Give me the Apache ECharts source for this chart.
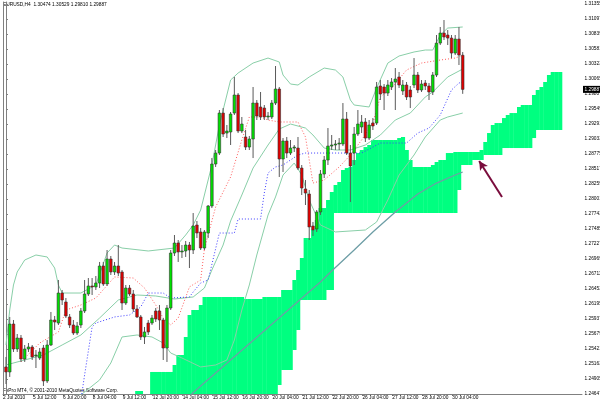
<!DOCTYPE html>
<html><head><meta charset="utf-8">
<script src="https://cdn.jsdelivr.net/npm/echarts@6/dist/echarts.min.js"></script>
<style>html,body{margin:0;padding:0;background:#fff}#c{width:600px;height:404px}</style>
</head><body><div id="c"></div><script>
const symbolTitle = 'EURUSD,H4  1.30474 1.30529 1.29810 1.29887';
const copyright = 'FxPro MT4, \u00a9 2001-2010 MetaQuotes Software Corp.';
const timeLabels = ['2 Jul 2010','5 Jul 12:00','6 Jul 20:00','8 Jul 04:00','9 Jul 12:00','12 Jul 20:00','14 Jul 04:00','15 Jul 12:00','16 Jul 20:00','20 Jul 04:00','21 Jul 12:00','22 Jul 20:00','26 Jul 04:00','27 Jul 12:00','28 Jul 20:00','30 Jul 04:00'];
const timeLabelBars = [0,8,16,24,32,40,48,56,64,72,80,88,96,104,112,120];
const priceLabels = ['1.31355','1.31097','1.30839','1.30581','1.30323','1.30065','1.29807','1.29549','1.29291','1.29033','1.28775','1.28517','1.28259','1.28001','1.27743','1.27485','1.27227','1.26969','1.26711','1.26453','1.26195','1.25937','1.25679','1.25421','1.25163','1.24905','1.24647'];
const lastPrice = 1.29887;

const open = [1.25112,1.25026,1.25851,1.25421,1.25610,1.25249,1.25421,1.25456,1.25301,1.25266,
1.25438,1.24871,1.25490,1.25920,1.25868,1.26384,1.26230,1.25972,1.25834,1.25696,
1.25834,1.26075,1.26367,1.26505,1.26488,1.26556,1.26849,1.26539,1.26969,1.26746,
1.26849,1.26746,1.26212,1.26470,1.26367,1.26109,1.25972,1.25628,1.25868,1.25868,
1.26075,1.26075,1.25920,1.25438,1.26126,1.27072,1.27244,1.27090,1.27107,1.27210,
1.27124,1.27554,1.27434,1.27158,1.27416,1.27881,1.28603,1.28792,1.29480,1.29136,
1.29154,1.29480,1.29790,1.29171,1.29068,1.28895,1.29033,1.29652,1.29584,1.29566,
1.29412,1.29412,1.29652,1.29893,1.28689,1.28999,1.28792,1.28878,1.28878,1.28534,
1.28173,1.28087,1.27537,1.27485,1.27778,1.28431,1.28672,1.28912,1.28930,1.28947,
1.28947,1.29377,1.28792,1.28792,1.29119,1.29240,1.29326,1.29050,1.29308,1.29308,
1.29945,1.29928,1.29824,1.29928,1.30014,1.30100,1.29859,1.29962,1.29876,1.29962,
1.30134,1.29876,1.29996,1.29945,1.29842,1.30134,1.30684,1.30856,1.30822,1.30770,
1.30512,1.30753,1.30474];
const high = [1.25284,1.25972,1.25920,1.25679,1.25662,1.25490,1.25524,1.25490,1.25404,1.25438,
1.25490,1.25576,1.26058,1.25989,1.26608,1.26436,1.26298,1.26023,1.25920,1.25886,
1.26126,1.26608,1.26642,1.26642,1.26677,1.26918,1.26918,1.27124,1.27021,1.26918,
1.27210,1.26780,1.26522,1.26522,1.26436,1.26178,1.26006,1.25800,1.25920,1.26006,
1.26126,1.26178,1.25954,1.26178,1.27124,1.27382,1.27296,1.27210,1.27279,1.27262,
1.27760,1.27623,1.27502,1.27468,1.27898,1.28706,1.28844,1.29532,1.29566,1.29274,
1.29498,1.30100,1.29824,1.29412,1.29188,1.29085,1.29928,1.29704,1.29842,1.29618,
1.29498,1.29704,1.30289,1.29928,1.29050,1.29068,1.29016,1.28930,1.29068,1.28586,
1.28328,1.28156,1.27606,1.27812,1.28500,1.28741,1.29222,1.29102,1.29016,1.29050,
1.29652,1.29498,1.28930,1.29240,1.29532,1.29446,1.29394,1.29360,1.29394,1.30014,
1.30048,1.29979,1.30048,1.30082,1.30254,1.30186,1.30048,1.30014,1.29945,1.30426,
1.30186,1.30048,1.30048,1.29996,1.30186,1.30822,1.30960,1.31080,1.30908,1.30822,
1.30822,1.30960,1.30529];
const low = [1.24819,1.24940,1.25370,1.25370,1.25198,1.25198,1.25370,1.25232,1.25094,1.25232,
1.24785,1.24836,1.25473,1.25748,1.25834,1.26178,1.25954,1.25782,1.25662,1.25662,
1.25782,1.26040,1.26333,1.26350,1.26436,1.26470,1.26505,1.26505,1.26694,1.26694,
1.26677,1.26092,1.26178,1.26333,1.26058,1.25954,1.25576,1.25507,1.25662,1.25834,
1.25886,1.25748,1.25232,1.25198,1.26092,1.27021,1.26918,1.26986,1.27004,1.26814,
1.27055,1.27330,1.27124,1.27124,1.27330,1.27846,1.28552,1.28758,1.29068,1.29050,
1.28930,1.29446,1.29136,1.29136,1.28844,1.28844,1.28706,1.29360,1.29360,1.29360,
1.29360,1.29377,1.29618,1.28380,1.28466,1.28706,1.28758,1.28810,1.28500,1.28070,
1.27898,1.27296,1.27365,1.27434,1.27726,1.28362,1.28586,1.28844,1.28844,1.28844,
1.28912,1.28758,1.27950,1.28586,1.29085,1.29136,1.28982,1.29016,1.29188,1.29274,
1.29704,1.29532,1.29773,1.29876,1.29532,1.29910,1.29790,1.29704,1.29566,1.29910,
1.29824,1.29842,1.29876,1.29704,1.29790,1.30100,1.30650,1.30736,1.30650,1.30426,
1.30478,1.30306,1.29810];
const close = [1.25026,1.25851,1.25421,1.25610,1.25249,1.25421,1.25456,1.25284,1.25318,1.25370,
1.24871,1.25490,1.25920,1.25886,1.26384,1.26264,1.25989,1.25834,1.25696,1.25817,
1.26075,1.26367,1.26505,1.26488,1.26556,1.26849,1.26539,1.26969,1.26746,1.26849,
1.26728,1.26212,1.26470,1.26367,1.26109,1.25972,1.25628,1.25714,1.25714,1.25954,
1.25937,1.25920,1.25438,1.26126,1.27072,1.27244,1.27090,1.27107,1.27210,1.27124,
1.27537,1.27416,1.27158,1.27434,1.27881,1.28603,1.28792,1.29480,1.29119,1.29171,
1.29463,1.29790,1.29171,1.29291,1.28895,1.29033,1.29652,1.29429,1.29412,1.29412,
1.29429,1.29652,1.29893,1.28689,1.28999,1.28792,1.28878,1.28895,1.28534,1.28190,
1.28104,1.27520,1.27468,1.27778,1.28431,1.28672,1.28912,1.28930,1.28947,1.28964,
1.29377,1.28792,1.28569,1.29119,1.29291,1.29326,1.29050,1.29274,1.29257,1.29928,
1.29807,1.29824,1.29962,1.30014,1.30065,1.29962,1.29962,1.29756,1.29756,1.30134,
1.29876,1.29979,1.29945,1.29842,1.30134,1.30684,1.30856,1.30788,1.30770,1.30512,
1.30753,1.30478,1.29887];

const cloudStart = 35;
const cloudTop = [1.24699,1.24699,null,null,1.25026,1.25026,1.25026,1.25026,1.25026,1.25026,
1.25146,1.25318,1.25318,1.25628,1.26006,1.26092,1.26092,1.26178,
1.26316,1.26316,1.26316,1.26316,1.26316,1.26316,1.26316,1.26316,1.26316,1.26316,1.26316,
1.26281,1.26281,1.26281,1.26281,1.26281,
1.26316,1.26316,1.26316,1.26316,1.26316,
1.26436,1.26436,1.26436,1.26608,1.26780,1.26986,1.27330,1.27330,1.27468,1.27640,
1.27846,1.27846,1.27984,1.28122,1.28242,1.28294,1.28500,1.28534,1.28552,1.28672,
1.28792,1.28844,1.28895,1.28930,
1.29016,1.29016,1.29016,1.29016,1.29016,1.29016,1.29016,
1.29050,1.29068,1.28844,1.28672,1.28552,1.28552,1.28552,1.28552,1.28552,
1.28586,1.28638,1.28672,1.28672,1.28792,1.28792,
1.28810,1.28810,1.28810,1.28810,1.28810,1.28810,1.28810,
1.28844,1.28982,1.29136,1.29274,1.29308,1.29308,1.29394,1.29446,1.29480,1.29480,
1.29584,1.29618,1.29618,1.29618,1.29790,1.29876,1.29928,1.30014,1.30134,
1.30186,1.30186,1.30186];
const cloudBottom = [1.24544,1.24544,1.24544,1.24544,1.24544,1.24544,1.24544,1.24544,1.24544,1.24544,
1.24544,1.24544,1.24544,1.24544,1.24544,1.24544,1.24544,1.24544,1.24544,1.24544,
1.24544,1.24544,1.24544,1.24544,1.24544,1.24544,1.24544,1.24544,1.24544,1.24544,
1.24544,1.24544,1.24544,1.24544,1.24544,1.24544,1.24544,1.24544,
1.24802,1.25060,1.25060,1.25060,1.25404,1.25748,
1.26264,1.26264,1.26264,1.26264,1.26264,1.26264,1.26264,
1.26436,1.26436,
1.27760,1.27760,1.27760,1.27760,1.27760,1.27760,1.27760,1.27760,1.27760,1.27760,
1.27760,1.27760,1.27760,1.27760,1.27760,1.27760,1.27760,1.27760,1.27760,1.27760,
1.27760,1.27760,1.27760,1.27760,1.27760,1.27760,1.27760,1.27760,1.27760,1.27760,
1.27760,1.27760,1.27760,
1.28156,1.28586,1.28586,1.28586,1.28672,1.28672,1.28672,
1.28758,1.28758,1.28758,1.28758,1.28758,
1.28878,1.28878,1.28878,1.28878,1.28878,1.28878,1.28878,1.28878,
1.29050,1.29188,1.29188,1.29188,1.29188,1.29188,1.29188,1.29188];

const bbUpper = [[0,1.25490],[1,1.26092],[2,1.26522],[3,1.26746],[5,1.26952],[8,1.27038],[11,1.27004],[13,1.26814],[14,1.26522],[15,1.26384],[20,1.26384],[24,1.26522],[27,1.27072],[29,1.27210],[31,1.27158],[38,1.27107],[45,1.27158],[48,1.27382],[50,1.27554],[52,1.27812],[55,1.28586],[57,1.29274],[60,1.30048],[62,1.30168],[66,1.30340],[70,1.30426],[73,1.30358],[74,1.30134],[76,1.29979],[78,1.29962],[81,1.30100],[85,1.30254],[88,1.30220],[90,1.30100],[92,1.29704],[93,1.29618],[97,1.29584],[99,1.29910],[102,1.30340],[105,1.30461],[109,1.30530],[112,1.30564],[114,1.30564],[116,1.30822],[118,1.30942],[122,1.30960]];
const bbMiddle = [[0,1.25146],[5,1.25232],[10,1.25318],[15,1.25490],[20,1.25662],[25,1.25954],[30,1.26264],[35,1.26350],[40,1.26333],[45,1.26281],[50,1.26316],[53,1.26470],[55,1.26780],[58,1.27210],[60,1.27623],[63,1.28070],[66,1.28534],[70,1.28930],[73,1.29205],[76,1.29291],[80,1.29222],[82,1.29102],[85,1.28878],[88,1.28844],[92,1.28844],[96,1.28930],[100,1.29102],[104,1.29360],[108,1.29480],[112,1.29756],[114,1.29842],[118,1.30100],[122,1.30237]];
const bbLower = [[0,1.24544],[10,1.24578],[20,1.24630],[25,1.24888],[28,1.25180],[31,1.25628],[35,1.25662],[39,1.25628],[42,1.25524],[44,1.25352],[47,1.25266],[52,1.25112],[56,1.25146],[59,1.25232],[61,1.25576],[63,1.26092],[65,1.26522],[67,1.27038],[70,1.27726],[72,1.28036],[74,1.28414],[77,1.28620],[79,1.28414],[81,1.27984],[84,1.27554],[88,1.27434],[96,1.27468],[99,1.27606],[102,1.27984],[105,1.28414],[109,1.28758],[112,1.29068],[116,1.29360],[118,1.29412],[122,1.29480]];
const tenkan = [[4,1.25198],[9,1.25524],[14,1.25714],[16,1.26092],[20,1.26178],[24,1.26298],[29,1.26660],[34,1.26642],[37,1.26470],[40,1.26178],[42,1.25954],[44,1.25834],[46,1.25954],[49,1.26488],[52,1.26608],[53,1.27141],[56,1.27864],[60,1.28380],[63,1.29016],[65,1.29412],[68,1.29412],[70,1.29360],[73,1.29326],[78,1.29326],[80,1.29068],[82,1.28276],[85,1.28328],[89,1.28552],[92,1.28758],[95,1.29016],[98,1.29308],[100,1.29756],[103,1.29910],[107,1.30220],[111,1.30340],[116,1.30392],[120,1.30426],[122,1.30478]];
const kijun = [[20,1.24544],[21,1.24974],[23,1.25800],[24,1.25868],[29,1.25972],[33,1.26006],[36,1.26144],[38,1.26384],[42,1.26384],[44,1.26298],[49,1.26316],[50,1.26402],[52,1.26556],[54,1.26608],[57,1.27416],[61,1.27416],[62,1.27657],[68,1.27657],[69,1.28104],[70,1.28448],[72,1.28552],[74,1.28586],[76,1.28672],[78,1.28758],[80,1.28792],[95,1.28792],[98,1.28895],[100,1.28964],[107,1.28964],[110,1.29136],[113,1.29222],[116,1.29446],[119,1.29876],[121,1.29996],[122,1.30014]];
const maLine = [[47,1.24458],[49,1.24613],[52,1.24785],[56,1.25008],[60,1.25232],[64,1.25456],[68,1.25679],[72,1.25903],[76,1.26126],[80,1.26350],[84,1.26574],[87,1.26763],[93,1.27124],[98,1.27434],[104,1.27778],[110,1.28087],[115,1.28276],[120,1.28414],[122,1.28466]];
const arrowFrom = [132.5, 1.28035];
const arrowTo = [126.4, 1.28655];

const FONT = 'Liberation Sans';
const FS = 4.8;
const timeTickVals = timeLabelBars.map(b => b - 0.8);
const priceVals = priceLabels.map(Number);

const bars = open.map((o, i) => [i, o, close[i], low[i], high[i]]);
const cloudData = [];
for (let k = 0; k < cloudTop.length; k++) {
  if (cloudTop[k] !== null) cloudData.push([cloudStart + k, cloudTop[k], cloudBottom[k]]);
}

function renderCandle(params, api) {
  const i = api.value(0), o = api.value(1), c = api.value(2), l = api.value(3), h = api.value(4);
  const pO = api.coord([i, o]), pC = api.coord([i, c]), pL = api.coord([i, l]), pH = api.coord([i, h]);
  const x = pO[0];
  const w = 2.6;
  const top = Math.min(pO[1], pC[1]), bot = Math.max(pO[1], pC[1]);
  const up = c >= o;
  return {type: 'group', children: [
    {type: 'line', shape: {x1: x, y1: pH[1], x2: x, y2: pL[1]}, style: {stroke: '#5a5a5a', lineWidth: 1}},
    {type: 'rect', shape: {x: x - w / 2, y: top, width: w, height: Math.max(bot - top, 0.8)},
     style: {fill: up ? '#00e000' : '#e00000', stroke: '#333333', lineWidth: 0.6}}
  ]};
}
function renderCloud(params, api) {
  const i = api.value(0), t = api.value(1), b = api.value(2);
  const p1 = api.coord([i - 0.5, t]), p2 = api.coord([i + 0.5, b]);
  return {type: 'rect', shape: {x: p1[0], y: p1[1], width: p2[0] - p1[0] + 0.4, height: p2[1] - p1[1]},
    style: {fill: '#00ff80'}};
}
function lineSeries(data, color, type, width, z) {
  return {type: 'line', data: data, symbol: 'none', smooth: false, clip: true, z: z, silent: true,
    lineStyle: {color: color, width: width, type: type}};
}

const chart = echarts.init(document.getElementById('c'), null, {renderer: 'canvas'});
chart.setOption({
  animation: false,
  backgroundColor: '#ffffff',
  grid: {left: 2, right: 18, top: 2, bottom: 10},
  xAxis: {
    type: 'value', min: -0.8, max: 153.867,
    axisLine: {show: true, onZero: false, lineStyle: {color: '#808080', width: 1}},
    axisTick: {show: true, length: 2, customValues: timeTickVals, lineStyle: {color: '#808080'}},
    axisLabel: {show: true, customValues: timeTickVals, fontSize: FS, color: '#000', margin: 1.5, align: 'left', fontFamily: FONT,
      hideOverlap: false, interval: 0,
      formatter: v => timeLabels[Math.round((v + 0.8) / 8)] || ''},
    splitLine: {show: false}
  },
  yAxis: [{
    type: 'value', position: 'right', min: 1.24647, max: 1.31390, scale: true,
    axisLine: {show: true, lineStyle: {color: '#808080', width: 1}},
    axisTick: {show: true, length: 2, customValues: priceVals, lineStyle: {color: '#808080'}},
    axisLabel: {show: false},
    splitLine: {show: false}
  }, {
    type: 'value', position: 'left', min: 1.24647, max: 1.31390, scale: true,
    axisLine: {show: true, lineStyle: {color: '#808080', width: 1}},
    axisTick: {show: false}, axisLabel: {show: false}, splitLine: {show: false}
  }],
  series: [
    {type: 'custom', name: 'cloud', data: cloudData, renderItem: renderCloud, clip: true, z: 1, silent: true,
     encode: {x: 0, y: [1, 2]}},
    lineSeries(maLine, '#6e9ea6', 'solid', 1.3, 2),
    lineSeries(bbUpper, '#89cfa8', 'solid', 1, 3),
    lineSeries(bbMiddle, '#89cfa8', 'solid', 1, 3),
    lineSeries(bbLower, '#89cfa8', 'solid', 1, 3),
    lineSeries(tenkan, '#ff5a5a', [1, 2], 1, 3),
    lineSeries(kijun, '#3c3cff', [1, 2], 1, 3),
    {type: 'custom', name: 'candles', data: bars, renderItem: renderCandle, clip: true, z: 4, silent: true,
     encode: {x: 0, y: [1, 2, 3, 4]}},
    {type: 'line', name: 'arrow', data: [arrowFrom], symbol: 'none', lineStyle: {opacity: 0}, z: 5, silent: true,
     markLine: {silent: true, animation: false, symbol: ['none', 'arrow'], symbolSize: [7, 9],
       lineStyle: {color: '#7a0c3c', width: 2, type: 'solid'}, label: {show: false},
       data: [[{coord: arrowFrom}, {coord: arrowTo}]]}}
  ]
});
// right-axis price labels and the current-price box, placed through the axis scale
const axisX = chart.convertToPixel({xAxisIndex: 0}, 153.867);
const gfx = [
  {type: 'text', left: 3, top: 2, style: {text: symbolTitle, fontSize: FS, fontFamily: FONT, fill: '#000'}},
  {type: 'text', left: 3, top: 388, style: {text: copyright, fontSize: FS, fontFamily: FONT, fill: '#000'}}
];
priceLabels.forEach((s, k) => {
  const y = chart.convertToPixel({yAxisIndex: 0}, priceVals[k]);
  gfx.push({type: 'text', x: axisX + 2.5, y: y, silent: true,
    style: {text: s, fontSize: FS, fontFamily: FONT, fill: '#000', verticalAlign: 'middle', align: 'left'}});
});
const priceY = chart.convertToPixel({yAxisIndex: 0}, lastPrice);
gfx.push({type: 'rect', z: 10, shape: {x: axisX + 1, y: priceY - 3.5, width: 19, height: 7}, style: {fill: '#000'}});
gfx.push({type: 'text', z: 11, x: axisX + 2.5, y: priceY, style: {text: lastPrice.toFixed(5), fontSize: FS, fontFamily: FONT, fill: '#fff', verticalAlign: 'middle', align: 'left'}});
chart.setOption({graphic: gfx});
</script></body></html>
